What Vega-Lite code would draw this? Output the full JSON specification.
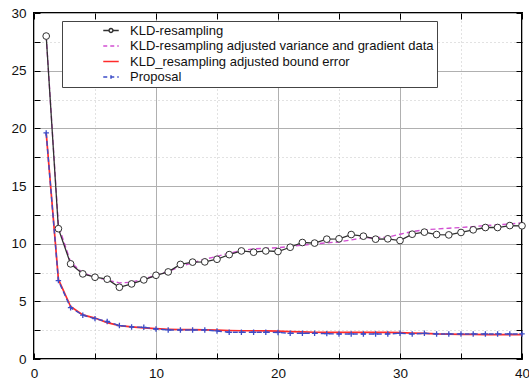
{
  "$schema": "https://vega.github.io/schema/vega-lite/v6.json",
  "width": 488,
  "height": 346,
  "autosize": {"type": "none"},
  "padding": {"left": 34, "top": 13, "right": 7, "bottom": 23},
  "background": "white",
  "config": {
    "view": {"stroke": "black", "strokeWidth": 2},
    "axis": {"title": null, "domain": false, "labelFont": "Liberation Sans", "labelFontSize": 13.5, "labelColor": "#111", "labelFlush": false, "labelOverlap": false, "tickColor": "black", "tickWidth": 1}
  },
  "data": {"values": [
    {"x": 1, "kld": 28.0, "adj": 28.0, "bnd": 19.6, "pro": 19.6},
    {"x": 2, "kld": 11.3, "adj": 11.6, "bnd": 6.9, "pro": 6.8},
    {"x": 3, "kld": 8.25, "adj": 8.4, "bnd": 4.55, "pro": 4.45},
    {"x": 4, "kld": 7.38, "adj": 7.45, "bnd": 3.82, "pro": 3.8},
    {"x": 5, "kld": 7.09, "adj": 7.1, "bnd": 3.55, "pro": 3.5},
    {"x": 6, "kld": 6.92, "adj": 6.85, "bnd": 3.15, "pro": 3.25},
    {"x": 7, "kld": 6.22, "adj": 6.6, "bnd": 2.9, "pro": 2.9},
    {"x": 8, "kld": 6.51, "adj": 6.65, "bnd": 2.78, "pro": 2.78},
    {"x": 9, "kld": 6.86, "adj": 6.95, "bnd": 2.7, "pro": 2.75},
    {"x": 10, "kld": 7.26, "adj": 7.25, "bnd": 2.63, "pro": 2.6},
    {"x": 11, "kld": 7.55, "adj": 7.6, "bnd": 2.58, "pro": 2.52},
    {"x": 12, "kld": 8.2, "adj": 8.0, "bnd": 2.55, "pro": 2.52},
    {"x": 13, "kld": 8.4, "adj": 8.35, "bnd": 2.55, "pro": 2.52},
    {"x": 14, "kld": 8.42, "adj": 8.65, "bnd": 2.53, "pro": 2.52},
    {"x": 15, "kld": 8.65, "adj": 8.9, "bnd": 2.5, "pro": 2.43},
    {"x": 16, "kld": 9.05, "adj": 9.17, "bnd": 2.47, "pro": 2.32},
    {"x": 17, "kld": 9.37, "adj": 9.4, "bnd": 2.45, "pro": 2.32},
    {"x": 18, "kld": 9.26, "adj": 9.55, "bnd": 2.45, "pro": 2.32},
    {"x": 19, "kld": 9.37, "adj": 9.6, "bnd": 2.43, "pro": 2.32},
    {"x": 20, "kld": 9.32, "adj": 9.65, "bnd": 2.42, "pro": 2.3},
    {"x": 21, "kld": 9.69, "adj": 9.75, "bnd": 2.38, "pro": 2.23},
    {"x": 22, "kld": 10.1, "adj": 9.87, "bnd": 2.35, "pro": 2.23},
    {"x": 23, "kld": 10.05, "adj": 9.97, "bnd": 2.32, "pro": 2.23},
    {"x": 24, "kld": 10.39, "adj": 10.07, "bnd": 2.3, "pro": 2.2},
    {"x": 25, "kld": 10.42, "adj": 10.15, "bnd": 2.3, "pro": 2.17},
    {"x": 26, "kld": 10.79, "adj": 10.33, "bnd": 2.3, "pro": 2.17},
    {"x": 27, "kld": 10.65, "adj": 10.5, "bnd": 2.3, "pro": 2.17},
    {"x": 28, "kld": 10.39, "adj": 10.52, "bnd": 2.3, "pro": 2.17},
    {"x": 29, "kld": 10.42, "adj": 10.56, "bnd": 2.3, "pro": 2.17},
    {"x": 30, "kld": 10.27, "adj": 10.82, "bnd": 2.28, "pro": 2.23},
    {"x": 31, "kld": 10.82, "adj": 11.05, "bnd": 2.25, "pro": 2.17},
    {"x": 32, "kld": 11.0, "adj": 11.2, "bnd": 2.22, "pro": 2.23},
    {"x": 33, "kld": 10.79, "adj": 11.27, "bnd": 2.17, "pro": 2.17},
    {"x": 34, "kld": 10.76, "adj": 11.34, "bnd": 2.15, "pro": 2.17},
    {"x": 35, "kld": 10.97, "adj": 11.4, "bnd": 2.14, "pro": 2.17},
    {"x": 36, "kld": 11.2, "adj": 11.48, "bnd": 2.13, "pro": 2.17},
    {"x": 37, "kld": 11.4, "adj": 11.57, "bnd": 2.12, "pro": 2.17},
    {"x": 38, "kld": 11.4, "adj": 11.63, "bnd": 2.12, "pro": 2.17},
    {"x": 39, "kld": 11.57, "adj": 11.7, "bnd": 2.11, "pro": 2.17},
    {"x": 40, "kld": 11.55, "adj": 11.8, "bnd": 2.11, "pro": 2.17}
  ]},
  "transform": [{"fold": ["kld", "adj", "bnd", "pro"], "as": ["series", "y"]}],
  "resolve": {"axis": {"x": "independent", "y": "independent"}},
  "layer": [
    {
      "transform": [{"filter": "datum.series === 'adj'"}],
      "mark": {"type": "line", "color": "#d24fd2", "strokeDash": [5, 3], "strokeWidth": 1.4},
      "encoding": {
        "x": {"field": "x", "type": "quantitative", "scale": {"domain": [0, 40], "nice": false},
              "axis": {"orient": "bottom", "values": [5, 15, 25, 35], "grid": true, "gridColor": "#c4c4c4", "gridDash": [1, 3], "labels": false, "ticks": false}},
        "y": {"field": "y", "type": "quantitative", "scale": {"domain": [0, 30], "nice": false},
              "axis": {"orient": "left", "values": [2.5, 7.5, 12.5, 17.5, 22.5, 27.5], "grid": true, "gridColor": "#c4c4c4", "gridDash": [1, 3], "labels": false, "ticks": false}}
      }
    },
    {
      "transform": [{"filter": "datum.series === 'kld'"}],
      "mark": {"type": "line", "strokeWidth": 1.3},
      "encoding": {
        "x": {"field": "x", "type": "quantitative",
              "axis": {"orient": "bottom", "values": [0, 10, 20, 30, 40], "grid": true, "gridColor": "#b0b0b0", "ticks": false, "labelPadding": 7}},
        "y": {"field": "y", "type": "quantitative",
              "axis": {"orient": "left", "values": [0, 5, 10, 15, 20, 25, 30], "grid": true, "gridColor": "#b0b0b0", "ticks": false, "labelPadding": 8}},
        "color": {"field": "series", "type": "nominal",
                  "scale": {"domain": ["kld", "adj", "bnd", "pro"], "range": ["#303030", "#d24fd2", "#ff2b2b", "#3c4cc8"]},
                  "legend": {
                    "title": null, "orient": "none", "legendX": 28, "legendY": 8,
                    "strokeColor": "#444", "fillColor": "white", "padding": 3,
                    "labelFont": "Liberation Sans", "labelFontSize": 13, "labelColor": "#111", "labelLimit": 0,
                    "symbolType": "stroke", "symbolSize": 240, "symbolStrokeWidth": 1.5,
                    "clipHeight": 13, "rowPadding": 1.5,
                    "labelExpr": "datum.value === 'kld' ? 'KLD-resampling' : datum.value === 'adj' ? 'KLD-resampling adjusted variance and gradient data' : datum.value === 'bnd' ? 'KLD_resampling adjusted bound error' : 'Proposal'",
                    "encode": {
                      "symbols": {"update": {
                        "x": {"value": 46},
                        "size": {"value": 240},
                        "shape": {"signal": "datum.value === 'kld' ? 'M-1,0H-0.25M0.25,0H1M0.25,0A0.25,0.25,0,1,1,-0.25,0A0.25,0.25,0,1,1,0.25,0Z' : datum.value === 'pro' ? 'M-1,0H1M0,-0.22V0.22' : 'M-1,0H1'"},
                        "strokeDash": {"signal": "(datum.value === 'adj' || datum.value === 'pro') ? [4, 3] : [1, 0]"},
                        "fill": {"value": "white"}
                      }},
                      "labels": {"update": {"x": {"value": 65}}}
                    }
                  }}
      }
    },
    {
      "transform": [{"filter": "datum.series === 'kld'"}],
      "mark": {"type": "point", "shape": "circle", "filled": true, "fill": "white", "stroke": "#303030", "strokeWidth": 1, "size": 45, "opacity": 1},
      "encoding": {
        "x": {"field": "x", "type": "quantitative", "axis": null},
        "y": {"field": "y", "type": "quantitative", "axis": null}
      }
    },
    {
      "transform": [{"filter": "datum.series === 'bnd'"}],
      "mark": {"type": "line", "color": "#ff2b2b", "strokeWidth": 1.7},
      "encoding": {
        "x": {"field": "x", "type": "quantitative",
              "axis": {"orient": "bottom", "values": [0, 5, 10, 15, 20, 25, 30, 35, 40], "labels": false, "grid": false, "ticks": true, "tickSize": -6}},
        "y": {"field": "y", "type": "quantitative",
              "axis": {"orient": "left", "values": [0, 2.5, 5, 7.5, 10, 12.5, 15, 17.5, 20, 22.5, 25, 27.5, 30], "labels": false, "grid": false, "ticks": true, "tickSize": -6}}
      }
    },
    {
      "transform": [{"filter": "datum.series === 'pro'"}],
      "mark": {"type": "line", "color": "#3c4cc8", "strokeDash": [5, 3], "strokeWidth": 1.4},
      "encoding": {
        "x": {"field": "x", "type": "quantitative",
              "axis": {"orient": "top", "values": [0, 5, 10, 15, 20, 25, 30, 35, 40], "labels": false, "grid": false, "ticks": true, "tickSize": -6}},
        "y": {"field": "y", "type": "quantitative",
              "axis": {"orient": "right", "values": [0, 2.5, 5, 7.5, 10, 12.5, 15, 17.5, 20, 22.5, 25, 27.5, 30], "labels": false, "grid": false, "ticks": true, "tickSize": -6}}
      }
    },
    {
      "transform": [{"filter": "datum.series === 'pro'"}],
      "mark": {"type": "point", "shape": "M-1,0H1M0,-1V1", "filled": false, "stroke": "#3c4cc8", "strokeWidth": 1.3, "size": 30, "opacity": 1},
      "encoding": {
        "x": {"field": "x", "type": "quantitative", "axis": null},
        "y": {"field": "y", "type": "quantitative", "axis": null}
      }
    }
  ]
}
